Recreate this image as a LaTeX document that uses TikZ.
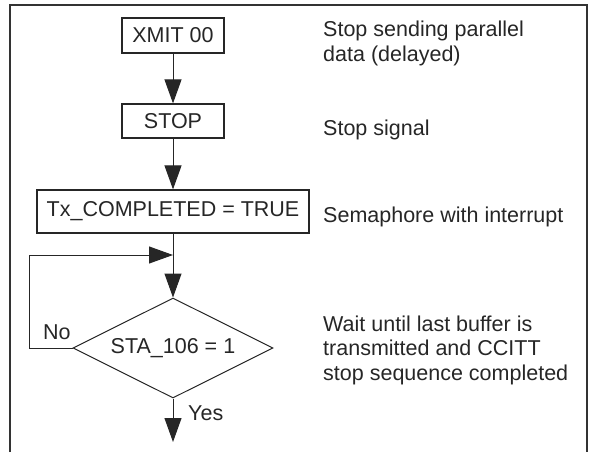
\documentclass[tikz,border=0pt]{standalone}
\usepackage{fontspec}
\setmainfont{Liberation Sans}
\usetikzlibrary{arrows.meta,shapes.geometric}
\begin{document}
\begin{tikzpicture}[x=1pt,y=-1pt,
  every node/.style={font=\fontsize{21.5}{24.5}\selectfont, text=black!85},
  procbox/.style={draw=black!85, line width=1.2pt, rectangle, inner sep=0pt},
  decision/.style={draw=black!85, line width=1pt, diamond, aspect=2, inner sep=0pt, minimum width=200pt, minimum height=100pt},
  note/.style={anchor=base west, align=left, inner sep=0pt},
  lbl/.style={anchor=base west, inner sep=0pt},
  flow/.style={draw=black!85, line width=1pt, -{Triangle[length=24pt,width=17pt]}},
  frame/.style={draw=black!80, line width=2pt}
]
\useasboundingbox (0,0) rectangle (593,452);
\draw[frame] (10,452) -- (10,5) -- (587,5) -- (587,452);

\node[procbox, minimum width=102pt, minimum height=35pt] (xmit) at (173,35.5) {XMIT 00};
\node[procbox, minimum width=102pt, minimum height=34pt] (stop) at (173,121) {STOP};
\node[procbox, minimum width=272pt, minimum height=43pt] (tx) at (173,211.5) {Tx\_COMPLETED = TRUE};
\node[decision] (dia) at (173,348) {STA\_106 = 1};

\coordinate (loopL) at (29,255);
\coordinate (join) at (173,255);
\coordinate (out) at (173,442);

\draw[flow] (xmit.south) -- (stop.north);
\draw[flow] (stop.south) -- (tx.north);
\draw[flow] (tx.south) -- (dia.north);
\draw[flow] (dia.west) -| (loopL) -- (join);
\draw[flow] (dia.south) -- (out);

\node[lbl] (no) at (43,339) {No};
\node[lbl] (yes) at (188,420) {Yes};

\node[note] (n1) at (323,61) {Stop sending parallel\\data (delayed)};
\node[note] (n2) at (323,135) {Stop signal};
\node[note] (n3) at (323,222) {Semaphore with interrupt};
\node[note] (n4) at (323,380) {Wait until last buffer is\\transmitted and CCITT\\stop sequence completed};
\end{tikzpicture}
\end{document}
